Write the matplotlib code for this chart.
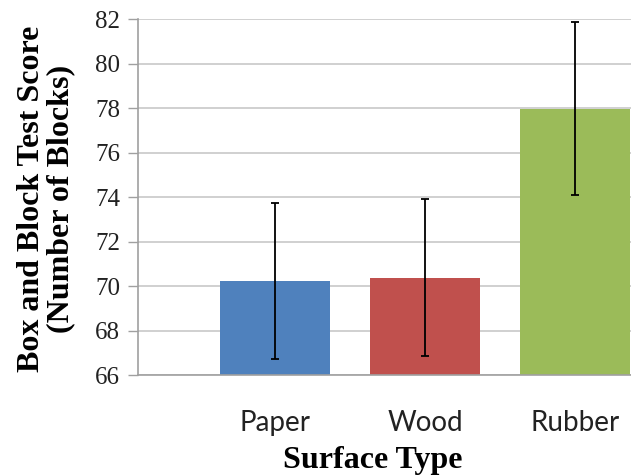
import matplotlib.pyplot as plt
import numpy as np

plt.rcParams['font.family'] = ['Liberation Serif', 'DejaVu Serif']

# data
surfaces = ['Paper', 'Wood', 'Rubber']
scores = [70.22, 70.37, 77.97]
errors = [3.5, 3.52, 3.9]
colors = ['#4f81bd', '#c0504d', '#9bbb59']
yticks = [66, 68, 70, 72, 74, 76, 78, 80, 82]

fig = plt.figure(figsize=(6.31, 4.75), dpi=100)
ax = fig.add_axes([0.2187, 0.2105, 0.7813, 0.7495])

x = np.arange(len(surfaces))
ax.bar(x, np.array(scores) - 66, bottom=66, width=0.733, color=colors, zorder=2)
ax.errorbar(x, scores, yerr=errors, fmt='none', ecolor='black',
            elinewidth=1.3, capsize=3, capthick=1.3, zorder=3)

ax.set_ylim(66, 82)
ax.set_xlim(-0.913, 2.373)
ax.tick_params(axis='x', length=0, pad=25)
ax.tick_params(axis='y', length=7, color='#a0a0a0', width=1, pad=6,
               labelsize=18, labelcolor='#222222')
ax.set_yticks(yticks)
ax.set_yticklabels([str(t) for t in yticks], fontfamily='Liberation Serif')
ax.set_xticks(x)
ax.set_xticklabels(surfaces, fontfamily='Lato', fontsize=20, color='#222222')

ax.yaxis.grid(True, color='#c8c8c8', linewidth=1.2, zorder=0)
ax.set_axisbelow(True)
for s in ['top', 'right']:
    ax.spines[s].set_visible(False)
ax.spines['left'].set_color('#a0a0a0')
ax.spines['bottom'].set_color('#a0a0a0')
ax.spines['left'].set_linewidth(1.2)
ax.spines['bottom'].set_linewidth(1.2)

ax.set_xlabel('Surface Type', fontweight='bold', fontsize=23)
ax.xaxis.set_label_coords(0.477, -0.2)
ax.set_ylabel('Box and Block Test Score\n(Number of Blocks)',
              fontweight='bold', fontsize=23, linespacing=1.0)
ax.yaxis.set_label_coords(-0.128, 0.495)

fig.savefig('out.png', dpi=100)
